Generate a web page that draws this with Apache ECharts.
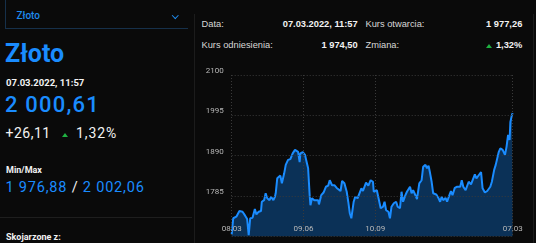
<!DOCTYPE html>
<html>
<head>
<meta charset="utf-8">
<script src="https://cdn.jsdelivr.net/npm/echarts@6/dist/echarts.min.js"></script>
<style>
  html, body { margin:0; padding:0; background:#0a0a0a; width:536px; height:243px; overflow:hidden; }
  .t { position:absolute; white-space:nowrap; line-height:1; }
  .rb { font-family:Roboto, sans-serif; }
  .ar { font-family:"Liberation Sans", Arial, sans-serif; }
  #chart { position:absolute; left:190px; top:55px; width:346px; height:188px; }
  .tri { display:inline-block; width:0; height:0; border-left:3px solid transparent; border-right:3px solid transparent; border-bottom:4px solid #1fb141; }
</style>
</head>
<body>
<!-- left panel -->
<div style="position:absolute;left:5px;top:0;width:182px;height:28px;border-left:1px solid #16304a;border-bottom:1px solid #16304a;"></div>
<div class="t rb" style="left:16.5px;top:11px;font-size:10px;font-weight:500;color:#1e8cf0;">Złoto</div>
<div style="position:absolute;left:173px;top:13px;width:3.5px;height:3.5px;border-right:1.5px solid #1e8cf0;border-bottom:1.5px solid #1e8cf0;transform:rotate(45deg);"></div>
<div class="t rb" style="left:5px;top:40.5px;font-size:25px;font-weight:700;color:#1a8cff;">Złoto</div>
<div class="t rb" style="left:6px;top:78px;font-size:9.5px;font-weight:700;color:#f2f2f2;">07.03.2022, 11:57</div>
<div class="t rb" style="left:5px;top:94px;font-size:22px;font-weight:500;color:#1a8cff;letter-spacing:1.2px;">2 000,61</div>
<div class="t rb" style="left:5.5px;top:125.5px;font-size:14px;color:#f2f2f2;letter-spacing:0.5px;">+26,11</div>
<div class="t" style="left:62px;top:132.5px;"><span class="tri" style="display:block;"></span></div>
<div class="t rb" style="left:76px;top:125.5px;font-size:14px;color:#f2f2f2;letter-spacing:0.9px;">1,32%</div>
<div class="t rb" style="left:6px;top:166.4px;font-size:9px;font-weight:700;color:#f2f2f2;">Min/Max</div>
<div class="t rb" style="left:5.5px;top:181px;font-size:14.5px;color:#1a8cff;letter-spacing:0.8px;">1 976,88 <span style="color:#f2f2f2;">/</span> 2 002,06</div>
<div style="position:absolute;left:0;top:217px;width:192px;height:1px;background:#1e1e1e;"></div>
<div class="t rb" style="left:6px;top:233px;font-size:9px;font-weight:700;color:#f2f2f2;">Skojarzone z:</div>

<!-- right panel -->
<div style="position:absolute;left:194px;top:14px;width:338px;height:240px;border-left:1px solid #1c1c1c;border-right:1px solid #1c1c1c;"></div>
<div class="t ar" style="left:201.5px;top:20.4px;font-size:9.3px;color:#d8d8d8;">Data:</div>
<div class="t ar" style="right:178.3px;top:20.4px;font-size:9.3px;font-weight:700;color:#f2f2f2;">07.03.2022, 11:57</div>
<div class="t ar" style="left:365.5px;top:20.4px;font-size:9.3px;color:#d8d8d8;">Kurs otwarcia:</div>
<div class="t ar" style="right:13.7px;top:20.4px;font-size:9.3px;font-weight:700;color:#f2f2f2;">1 977,26</div>
<div class="t ar" style="left:201.5px;top:41.4px;font-size:9.3px;color:#d8d8d8;">Kurs odniesienia:</div>
<div class="t ar" style="right:178.3px;top:41.4px;font-size:9.3px;font-weight:700;color:#f2f2f2;">1 974,50</div>
<div class="t ar" style="left:365.5px;top:41.4px;font-size:9.3px;color:#d8d8d8;">Zmiana:</div>
<div class="t" style="left:486px;top:44px;"><span class="tri" style="display:block;"></span></div>
<div class="t ar" style="right:13.7px;top:41.4px;font-size:9.3px;font-weight:700;color:#f2f2f2;">1,32%</div>

<div id="chart"></div>
<script>
// days since 08.03.2021
const startDate = '08.03.2021';
const days = [0,2,6,10,14,17,20,22,24,27,30,32,35,38,39,42,44,46,49,51,54,56,57,59,63,65,68,70,73,76,79,82,84,86,88,89,92,95,97,99,101,102,104,107,109,112,113,116,119,122,125,127,130,133,136,138,141,143,146,149,151,153,155,158,160,163,165,168,170,174,177,180,183,184,188,190,193,196,198,200,203,205,207,210,213,215,218,220,222,225,227,231,233,235,238,240,243,246,248,251,253,255,257,259,261,265,268,270,272,274,277,279,282,284,286,289,292,296,298,300,303,305,307,310,312,315,317,320,323,325,328,331,335,337,340,342,344,346,348,351,353,354,356,358,360,361,363,364];
const prices = [1685,1727,1731,1746,1744,1735,1725,1683,1727,1728,1751,1737,1744,1746,1770,1774,1792,1779,1774,1783,1774,1783,1792,1831,1838,1818,1844,1866,1879,1881,1896,1905,1907,1900,1873,1896,1899,1892,1874,1857,1787,1761,1779,1774,1779,1774,1763,1787,1794,1809,1812,1826,1813,1813,1806,1805,1798,1824,1818,1796,1770,1740,1727,1770,1783,1779,1783,1805,1798,1820,1812,1826,1822,1796,1800,1803,1753,1757,1770,1748,1744,1727,1757,1766,1770,1757,1753,1796,1770,1787,1796,1809,1792,1800,1787,1777,1818,1826,1861,1866,1857,1864,1844,1822,1792,1789,1779,1770,1783,1774,1780,1770,1787,1798,1787,1806,1809,1809,1826,1809,1800,1796,1822,1815,1813,1841,1831,1839,1847,1805,1794,1798,1809,1822,1853,1866,1861,1900,1909,1905,1909,1892,1913,1944,1931,1978,1996,2000.61];
const xTickDays = [0, 93, 186, 364];
const xTickLabels = ['08.03', '09.06', '10.09', '07.03'];
const yTicks = [1680, 1785, 1890, 1995, 2100];

const chart = echarts.init(document.getElementById('chart'), null, {renderer: 'canvas'});
const grid = '#3a3a3a';
chart.setOption({
  animation: false,
  backgroundColor: 'transparent',
  grid: { left: 41.7, right: 23.3, top: 20, bottom: 6.7 },
  xAxis: {
    type: 'value', min: 0, max: 364, z: 5,
    axisLine: { show: false },
    axisTick: { show: false, customValues: xTickDays },
    axisLabel: {
      inside: true, margin: 3, color: '#b8b8b8', fontSize: 8, fontFamily: 'Roboto',
      customValues: xTickDays,
      formatter: v => xTickLabels[xTickDays.indexOf(v)]
    },
    splitLine: { show: true, lineStyle: { color: grid, type: [1, 2], width: 1 } }
  },
  yAxis: {
    type: 'value', min: yTicks[0], max: yTicks[yTicks.length - 1], interval: 105, z: 5,
    axisLine: { show: false }, axisTick: { show: false },
    axisLabel: { showMinLabel: false, color: '#b8b8b8', fontSize: 8, fontFamily: 'Roboto', margin: 8, verticalAlign: 'bottom', formatter: v => String(v) },
    splitLine: { show: true, lineStyle: { color: grid, type: [1, 2], width: 1 } }
  },
  series: [{
    type: 'line',
    data: days.map((d, i) => [d, prices[i]]),
    showSymbol: false,
    lineStyle: { color: '#1a8cff', width: 2 },
    areaStyle: { color: '#0b3157', opacity: 1 },
    z: 2
  }]
});
</script>
</body>
</html>
